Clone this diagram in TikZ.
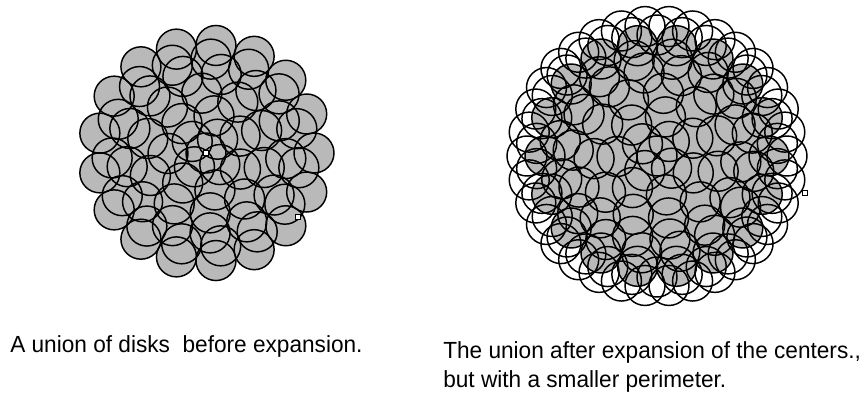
\documentclass[tikz,border=0pt]{standalone}
\usepackage{fontspec}
\newfontfamily\capfont[FakeStretch=0.97]{Liberation Sans}
\definecolor{diskc}{HTML}{B9B9B9}
\usetikzlibrary{positioning}
\tikzset{
  diskfill/.style={fill=diskc},
  diskline/.style={draw=black,line width=1.1pt},
  captext/.style={font=\capfont\fontsize{17.5}{22}\selectfont,anchor=base west,inner sep=0pt},
  dotmark/.style={fill=white,draw=black,line width=0.5pt},
}

\begin{document}
\begin{tikzpicture}[x=0.75pt,y=-0.75pt]
  \useasboundingbox (0,0) rectangle (867,394);
  % before expansion
  \begin{scope}[shift={(206,153)}]
    \foreach \rr/\nn/\oo in {108/17/0,94/15/9,80/13/4,60/10/14,38/7/25,18/4/40,0/1/0}
      \foreach \i in {1,...,\nn}
        \fill[diskfill] ({\oo+360*\i/\nn}:\rr) circle (20);
    \foreach \rr/\nn/\oo in {108/17/0,94/15/9,80/13/4,60/10/14,38/7/25,18/4/40,0/1/0}
      \foreach \i in {1,...,\nn}
        \draw[diskline] ({\oo+360*\i/\nn}:\rr) circle (20);
    \filldraw[dotmark] (0,0) ++(-2.5,-2.5) rectangle ++(5,5);
    \filldraw[dotmark] (92,64) ++(-2.5,-2.5) rectangle ++(5,5);
  \end{scope}
  % after expansion
  \begin{scope}[shift={(657,156)}]
    \foreach \rr/\nn/\oo in {112/18/0,98/16/9,84/14/4,63/11/14,40/7/25,19/4/40,0/1/0}
      \foreach \i in {1,...,\nn}
        \fill[diskfill] ({\oo+360*\i/\nn}:\rr) circle (20);
    \foreach \rr/\nn/\oo in {112/18/0,98/16/9,84/14/4,63/11/14,40/7/25,19/4/40,0/1/0}
      \foreach \i in {1,...,\nn}
        \draw[diskline] ({\oo+360*\i/\nn}:\rr) circle (20);
    \foreach \rr/\nn/\oo in {130/34/0,121/30/6}
      \foreach \i in {1,...,\nn}
        \draw[diskline] ({\oo+360*\i/\nn}:\rr) circle (20);
    \filldraw[dotmark] (148,37) ++(-2.5,-2.5) rectangle ++(5,5);
  \end{scope}
  \node[captext] (capl) at (10,352) {A union of disks\ \ before expansion.};
  \node[captext] (capr) at (443,358) {The union after expansion of the centers.,};
  \node[captext] (caprb) at (443,387) {but with a smaller perimeter.};
\end{tikzpicture}
\end{document}
